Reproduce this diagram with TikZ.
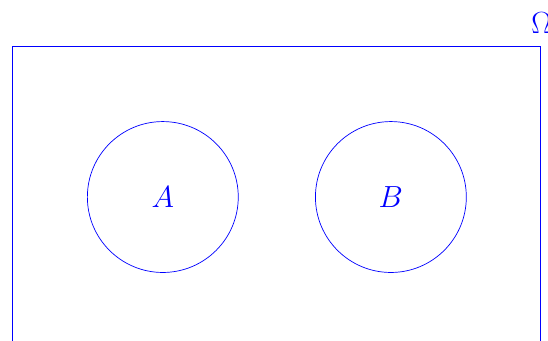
\documentclass[tikz,border=0pt]{standalone}
\usepackage{tikz}
\usetikzlibrary{positioning}

\begin{document}
\begin{tikzpicture}[
    universe/.style={draw=blue},
    setcircle/.style={circle, draw=blue, minimum size=3cm, inner sep=0pt, text=blue, font=\LARGE},
    setlabel/.style={text=blue, font=\LARGE, anchor=base}
]

\useasboundingbox (-3.237,-2.843) rectangle (7.658,3.917);
\clip (-3.237,-2.843) rectangle (7.658,3.917);

\draw[universe] (-3,-3.5) rectangle (7.5,3);
\node[setlabel] (omega) at (7.53,3.26) {$\Omega$};

\node[setcircle] (setA) at (0,0) {$A$};
\node[setcircle, right=1.52cm of setA] (setB) {$B$};

\end{tikzpicture}
\end{document}
